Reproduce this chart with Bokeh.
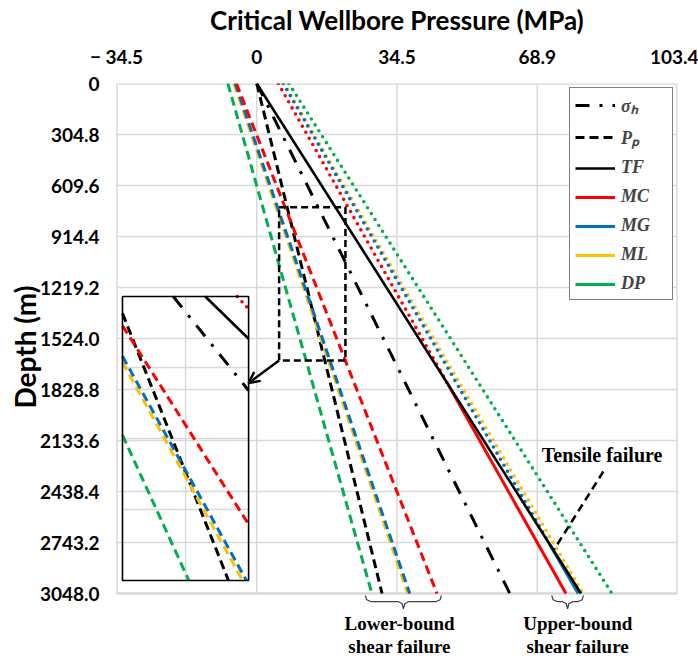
from bokeh.plotting import figure
from bokeh.layouts import column
from bokeh.models import (Range1d, FixedTicker, Legend, LegendItem, Label, Arrow, OpenHead)
from bokeh.core.properties import value
from bokeh.embed import file_html
from bokeh.resources import INLINE

# ---------------- data (pressure in MPa at depth 0 m and 3048 m) ----------------
depth_m = [0.0, 3048.0]
sigma_h = [0.0, 62.2]
pore_p = [0.0, 30.8]
tensile_f = [0.0, 79.7]
mc_lower = [-5.0, 44.3]
mg_lower = [-5.3, 37.6]
ml_lower = [-5.6, 37.1]
dp_lower = [-7.1, 28.3]
mc_upper = [5.3, 76.0]
mg_upper = [6.5, 79.0]
ml_upper = [6.7, 80.2]
dp_upper = [7.9, 87.3]

x_ticks = [-34.47, 0, 34.47, 68.95, 103.42]
x_tick_labels = ["\u2212 34.5", "0", "34.5", "68.9", "103.4"]
y_ticks = [0, 304.8, 609.6, 914.4, 1219.2, 1524.0, 1828.8, 2133.6, 2438.4, 2743.2, 3048.0]
y_tick_labels = ["0", "304.8", "609.6", "914.4", "1219.2", "1524.0", "1828.8",
                 "2133.6", "2438.4", "2743.2", "3048.0"]

legend_labels = ["\u03c3\u2095", "P\u209a", "TF", "MC", "MG", "ML", "DP"]

# zoom window (dashed rectangle) and inset
zoom_x = [5.5, 21.8]
zoom_d = [740.0, 1655.0]
inset_view_x = [6.89, 20.68]
inset_view_d = [609.6, 1828.8]
inset_grid_x = [13.79]
inset_grid_d = [914.4, 1219.2, 1524.0]
inset_box_x = [-33.0, -2.0]
inset_box_d = [1273.0, 2970.0]
arrow_end_d = 1790.0

# annotations
tensile_text_xy = [84.9, 2223.0]
tensile_leader_start = [85.2, 2319.0]
tensile_leader_depth = 2790.0
lower_brace_x = [26.7, 45.4]
upper_brace_x = [72.5, 80.3]
brace_d = [3060.0, 3096.0, 3140.0]
lower_text_x = 35.1
upper_text_x = 78.9
text_rows_d = [3227.0, 3367.0]

RED, BLUE, YEL, GRN = "#FF0000", "#0070C0", "#FFC000", "#00B050"
GRID = "#d9d9d9"
FONT = "Lato"
SERIF = "Liberation Serif"

D0, D1 = depth_m

# layout (pixels)
W = 698
B_LEFT, B_RIGHT, B_TOP = 116, 21, 83
FRAME_H = 510            # pixels for 0 .. 3048 m
EXT_PX = 17              # frame extension below 3048 m (room for the braces)
MAIN_H = B_TOP + FRAME_H + EXT_PX
BOTTOM_H = 659 - MAIN_H
px_per_m = FRAME_H / (D1 - D0)


def p_at(s, d):
    return s[0] + (s[1] - s[0]) * (d - D0) / (D1 - D0)


def crossing(u, t):
    a = u[0] - t[0]
    b = u[1] - t[1]
    if a * b < 0:
        return D0 + (D1 - D0) * a / (a - b)
    return None


def to_box(P, d):
    x = inset_box_x[0] + (P - inset_view_x[0]) / (inset_view_x[1] - inset_view_x[0]) * (inset_box_x[1] - inset_box_x[0])
    y = inset_box_d[0] + (d - inset_view_d[0]) / (inset_view_d[1] - inset_view_d[0]) * (inset_box_d[1] - inset_box_d[0])
    return x, y


def clip_view(s, da, db):
    lo, hi = max(da, inset_view_d[0]), min(db, inset_view_d[1])
    k = (s[1] - s[0]) / (D1 - D0)
    if k != 0:
        dA = D0 + (inset_view_x[0] - s[0]) / k
        dB = D0 + (inset_view_x[1] - s[0]) / k
        lo = max(lo, min(dA, dB))
        hi = min(hi, max(dA, dB))
    if hi <= lo:
        return None
    return lo, hi


p = figure(width=W, height=MAIN_H, x_range=Range1d(x_ticks[0], x_ticks[-1]),
           y_range=Range1d(D1 + EXT_PX / px_per_m, D0), x_axis_location="above",
           output_backend="svg", toolbar_location=None,
           min_border_left=B_LEFT, min_border_right=B_RIGHT, min_border_top=B_TOP,
           min_border_bottom=0)
p.background_fill_color = "white"
p.border_fill_color = "white"
p.outline_line_color = None

xa = p.xaxis[0]
xa.ticker = FixedTicker(ticks=x_ticks)
xa.major_label_overrides = {t: l for t, l in zip(x_ticks, x_tick_labels)}
xa.axis_label = "Critical Wellbore Pressure (MPa)"
xa.axis_label_text_font_size = "26px"
xa.major_label_standoff = 16
xa.axis_label_standoff = 6

ya = p.yaxis[0]
ya.ticker = FixedTicker(ticks=y_ticks)
ya.major_label_overrides = {t: l for t, l in zip(y_ticks, y_tick_labels)}
ya.axis_label = "Depth (m)"
ya.axis_label_text_font_size = "28px"
ya.major_label_standoff = 17
ya.axis_label_standoff = -5

for ax in (xa, ya):
    ax.major_label_text_font = FONT
    ax.major_label_text_font_style = "bold"
    ax.major_label_text_font_size = "19px"
    ax.major_label_text_color = "black"
    ax.axis_label_text_font = FONT
    ax.axis_label_text_font_style = "bold"
    ax.axis_label_text_color = "black"
    ax.major_tick_out = 0
    ax.major_tick_in = 0
    ax.minor_tick_out = 0
    ax.minor_tick_in = 0
    ax.axis_line_color = None

# grid limited to the 0..3048 m plot area, plus its border
p.xgrid.visible = False
p.ygrid.ticker = FixedTicker(ticks=y_ticks)
p.ygrid.grid_line_color = GRID
p.ygrid.grid_line_width = 1.5
p.segment(x0=x_ticks, y0=[D0] * len(x_ticks), x1=x_ticks, y1=[D1] * len(x_ticks),
          line_color=GRID, line_width=1.5, level="underlay")
p.line(x=[x_ticks[0], x_ticks[-1], x_ticks[-1], x_ticks[0], x_ticks[0]],
       y=[D0, D0, D1, D1, D0], line_color=GRID, line_width=2.5, level="underlay")

STY = {
    "sigma": dict(line_color="black", line_width=3, line_dash="14 10 3 10"),
    "pore": dict(line_color="black", line_width=3, line_dash="9 5"),
    "tf": dict(line_color="black", line_width=2.6),
}


def lower_style(c):
    return dict(line_color=c, line_width=3, line_dash="9 5")


def dot_style(c):
    return dict(line_color=c, line_width=3.6, line_dash="0 7", line_cap="round")


def solid_style(c):
    return dict(line_color=c, line_width=3)


def draw(s, da, db, style):
    return p.line(x=[p_at(s, da), p_at(s, db)], y=[da, db], **style)


def draw_inset(s, da, db, style):
    c = clip_view(s, da, db)
    if c is None:
        return
    x0, y0 = to_box(p_at(s, c[0]), c[0])
    x1, y1 = to_box(p_at(s, c[1]), c[1])
    p.line(x=[x0, x1], y=[y0, y1], **style)


def both(s, da, db, style):
    r = draw(s, da, db, style)
    draw_inset(s, da, db, style)
    return r


# --- main series ---
r_sigma = both(sigma_h, D0, D1, STY["sigma"])
both(dp_lower, D0, D1, lower_style(GRN))
r_pore = both(pore_p, D0, D1, STY["pore"])
both(ml_lower, D0, D1, lower_style(YEL))
both(mg_lower, D0, D1, lower_style(BLUE))
both(mc_lower, D0, D1, lower_style(RED))

solid_r = {}
for key, s, c in [("ML", ml_upper, YEL), ("MC", mc_upper, RED), ("MG", mg_upper, BLUE), ("DP", dp_upper, GRN)]:
    dc = crossing(s, tensile_f)
    if dc is None:
        both(s, D0, D1, dot_style(c))
        # no controlling (solid) part: zero-length stub at the bottom end, used by the legend
        solid_r[key] = p.line(x=[p_at(s, D1), p_at(s, D1)], y=[D1, D1], **solid_style(c))
    else:
        both(s, D0, dc, dot_style(c))
        solid_r[key] = both(s, dc, D1, solid_style(c))

r_tf = both(tensile_f, D0, D1, STY["tf"])

# --- inset frame & grid ---
p.quad(left=[inset_box_x[0]], right=[inset_box_x[1]], top=[inset_box_d[0]],
       bottom=[inset_box_d[1]], fill_color="white", line_color=None, level="underlay")
for gx in inset_grid_x:
    x, _ = to_box(gx, inset_view_d[0])
    p.line(x=[x, x], y=inset_box_d, line_color=GRID, line_width=1.5, level="underlay")
for gd in inset_grid_d:
    _, y = to_box(inset_view_x[0], gd)
    p.line(x=inset_box_x, y=[y, y], line_color=GRID, line_width=1.5, level="underlay")
p.quad(left=[inset_box_x[0]], right=[inset_box_x[1]], top=[inset_box_d[0]],
       bottom=[inset_box_d[1]], fill_color=None, line_color="black", line_width=1.6)

# zoom rectangle + arrow to the inset
p.line(x=[zoom_x[0], zoom_x[1], zoom_x[1], zoom_x[0], zoom_x[0]],
       y=[zoom_d[0], zoom_d[0], zoom_d[1], zoom_d[1], zoom_d[0]],
       line_color="black", line_width=2.5, line_dash="7 4")
p.add_layout(Arrow(end=OpenHead(size=11, line_width=2.5, line_color="black"),
                   x_start=zoom_x[0], y_start=zoom_d[1], x_end=inset_box_x[1], y_end=arrow_end_d,
                   line_width=2.5, line_color="black"))

# tensile failure annotation
p.line(x=[tensile_leader_start[0], p_at(tensile_f, tensile_leader_depth)],
       y=[tensile_leader_start[1], tensile_leader_depth],
       line_color="black", line_width=2.5, line_dash="8 5")
p.add_layout(Label(x=tensile_text_xy[0], y=tensile_text_xy[1], text="Tensile failure",
                   text_font=SERIF, text_font_style="bold", text_font_size="20px",
                   text_color="black", text_align="center", text_baseline="middle"))


# braces under the frame
def brace(x0, x1):
    top, mid, tip = brace_d
    xc = 0.5 * (x0 + x1)
    e = min(1.3, 0.2 * (x1 - x0))
    h = mid - top
    pts = [(x0, top), (x0 + 0.25 * e, top + 0.7 * h), (x0 + e, mid), (xc - e, mid),
           (xc - 0.25 * e, mid + 0.3 * (tip - mid)), (xc, tip),
           (xc + 0.25 * e, mid + 0.3 * (tip - mid)), (xc + e, mid), (x1 - e, mid),
           (x1 - 0.25 * e, top + 0.7 * h), (x1, top)]
    p.line(x=[q[0] for q in pts], y=[q[1] for q in pts], line_color="#404040", line_width=1.2)


brace(*lower_brace_x)
brace(*upper_brace_x)

# legend
items = [LegendItem(label=legend_labels[0], renderers=[r_sigma]),
         LegendItem(label=legend_labels[1], renderers=[r_pore]),
         LegendItem(label=legend_labels[2], renderers=[r_tf]),
         LegendItem(label=legend_labels[3], renderers=[solid_r["MC"]]),
         LegendItem(label=legend_labels[4], renderers=[solid_r["MG"]]),
         LegendItem(label=legend_labels[5], renderers=[solid_r["ML"]]),
         LegendItem(label=legend_labels[6], renderers=[solid_r["DP"]])]
leg = Legend(items=items, location="top_right", margin=4, padding=5, spacing=8,
             glyph_width=40, glyph_height=20, label_height=20, label_width=46,
             label_standoff=6, label_text_font=SERIF, label_text_font_style="bold italic",
             label_text_font_size="18px", border_line_color="black", border_line_width=1.5,
             background_fill_color="white", background_fill_alpha=1.0)
p.add_layout(leg)

# ---------------- strip below the frame: brace captions ----------------
y_top_b = D1 + EXT_PX / px_per_m
y_bot_b = y_top_b + BOTTOM_H / px_per_m
p2 = figure(width=W, height=BOTTOM_H, x_range=p.x_range, y_range=Range1d(y_bot_b, y_top_b),
            x_axis_type=None, y_axis_type=None, output_backend="svg", toolbar_location=None,
            min_border_left=B_LEFT, min_border_right=B_RIGHT, min_border_top=0,
            min_border_bottom=0)
p2.outline_line_color = None
p2.grid.visible = False
p2.background_fill_color = "white"
p2.border_fill_color = "white"
p2.text(x=[lower_text_x, lower_text_x, upper_text_x, upper_text_x],
        y=[text_rows_d[0], text_rows_d[1], text_rows_d[0], text_rows_d[1]],
        text=["Lower-bound", "shear failure", "Upper-bound", "shear failure"],
        text_font=value(SERIF), text_font_style="bold", text_font_size=value("19px"),
        text_color="black", text_align="center", text_baseline="middle")

layout = column(p, p2, spacing=0)
open("out.html", "w").write(file_html(layout, INLINE))
